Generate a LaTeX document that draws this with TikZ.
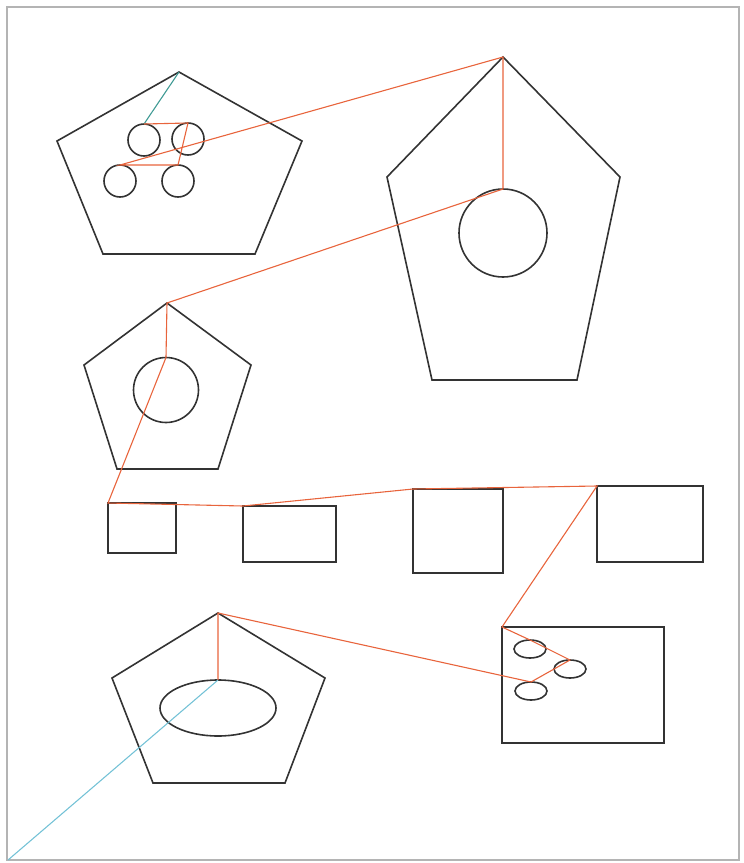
\documentclass[tikz,border=0pt]{standalone}
\usepackage{tikz}
\usetikzlibrary{shapes.geometric}
\definecolor{cline}{HTML}{333333}
\definecolor{cred}{HTML}{E8643C}
\definecolor{cteal}{HTML}{3F9A94}
\definecolor{csky}{HTML}{74C2D6}
\definecolor{cframe}{HTML}{B4B4B4}

\begin{document}
\begin{tikzpicture}[x=1pt, y=-1pt,
  outline/.style={draw=cline, line width=1.6pt},
  ring/.style={outline, circle, inner sep=0pt, outer sep=0pt},
  oval/.style={outline, ellipse, inner sep=0pt, outer sep=0pt},
  box/.style={draw=cline, line width=2.2pt, rectangle, inner sep=0pt, outer sep=0pt},
  link/.style={draw=cred, line width=1.1pt}]
\useasboundingbox (0,0) rectangle (744,863);
\draw[cframe, line width=1.5pt] (7,7) rectangle (739,860);
\coordinate (corner) at (8,860);
% pentagons
\draw[outline] (179,72) coordinate (p1) -- (302,141) -- (255,254) -- (103,254) -- (57,141) -- cycle;
\draw[outline] (503,57) coordinate (p2) -- (620,177) -- (577,380) -- (432,380) -- (387,177) -- cycle;
\draw[outline] (167,303) coordinate (p3) -- (251,365) -- (218,469) -- (117,469) -- (84,365) -- cycle;
\draw[outline] (218,613) coordinate (p4) -- (325,678) -- (285,783) -- (153,783) -- (112,678) -- cycle;
% rings and ovals
\node[ring, minimum size=32pt] (ca) at (144,140) {};
\node[ring, minimum size=32pt] (cb) at (188,139) {};
\node[ring, minimum size=32pt] (cc) at (120,181) {};
\node[ring, minimum size=32pt] (cd) at (178,181) {};
\node[ring, minimum size=88pt] (big) at (503,233) {};
\node[ring, minimum size=65pt] (mid) at (166,390) {};
\node[oval, minimum width=116pt, minimum height=56pt] (eo) at (218,708) {};
% boxes
\node[box, minimum width=68pt, minimum height=50pt] (b1) at (142,528) {};
\node[box, minimum width=93pt, minimum height=56pt] (b2) at (289.5,534) {};
\node[box, minimum width=90pt, minimum height=84pt] (b3) at (458,531) {};
\node[box, minimum width=106pt, minimum height=76pt] (b4) at (650,524) {};
\node[box, minimum width=162pt, minimum height=116pt] (b5) at (583,685) {};
\node[oval, minimum width=32pt, minimum height=18pt] (ea) at (530,649) {};
\node[oval, minimum width=32pt, minimum height=18pt] (eb) at (570,669) {};
\node[oval, minimum width=32pt, minimum height=18pt] (ec) at (531,691) {};
% links
\draw[cteal, line width=1.1pt] (p1) -- (ca.north);
\draw[link] (ca.north) -- (cb.north) -- (cd.north) -- (cc.north) -- (p2) -- (big.north)
  -- (p3) -- (mid.north) -- (b1.north west) -- (b2.north west) -- (b3.north west)
  -- (b4.north west) -- (b5.north west) -- (ea.north) -- (eb.north) -- (ec.north)
  -- (p4) -- (eo.north);
\draw[csky, line width=1.1pt] (eo.north) -- (corner);
\end{tikzpicture}
\end{document}
